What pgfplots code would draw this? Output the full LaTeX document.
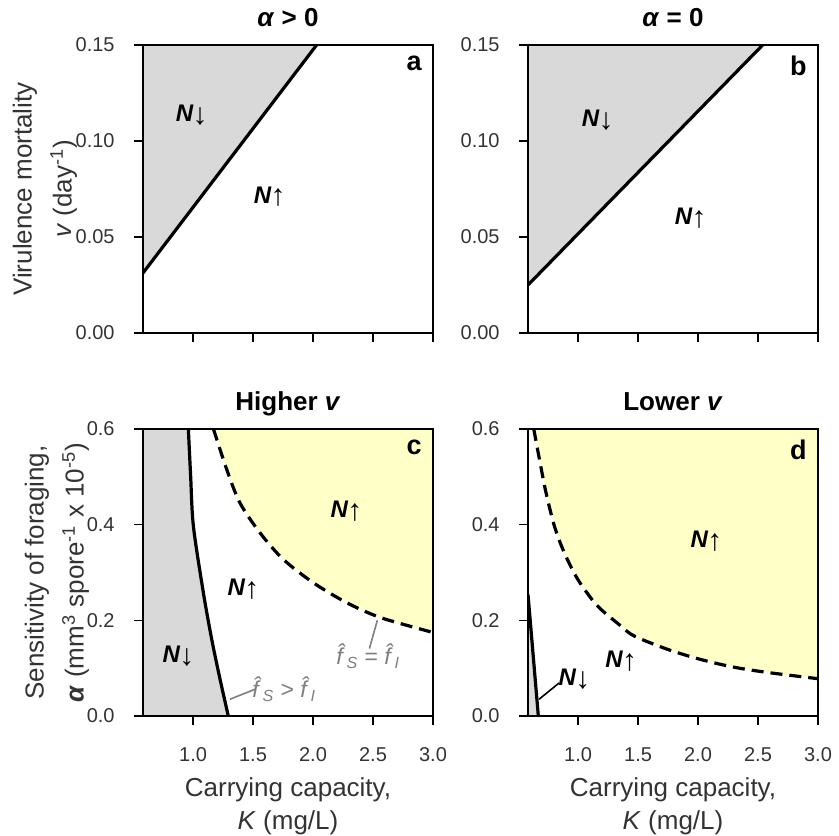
\documentclass[border=0pt]{standalone}
\usepackage{fontspec}
\setmainfont{Liberation Sans}
\usepackage{pgfplots}
\pgfplotsset{compat=1.18}
\definecolor{grayfill}{HTML}{D9D9D9}
\definecolor{yel}{HTML}{FFFFC8}
\definecolor{txt}{HTML}{333333}
\definecolor{anno}{HTML}{7F7F7F}
\newcommand{\Nup}{\textbf{\textit{N}}\kern-0.5pt\raisebox{-0.12em}{\fontseries{m}\fontsize{15}{15}\selectfont ↑}}
\newcommand{\Ndown}{\textbf{\textit{N}}\kern-0.5pt\raisebox{-0.12em}{\fontseries{m}\fontsize{15}{15}\selectfont ↓}}
\newcommand{\fh}[1]{\textit{\^{f}}\textsubscript{\textit{#1}}}
\tikzset{
  nlab/.style={font=\fontsize{12}{13}\selectfont},
  letter/.style={anchor=north east, inner sep=0pt, xshift=-5.5pt, yshift=-5.5pt, font=\bfseries\fontsize{13.5}{14}\selectfont},
}
\pgfplotsset{
  panel/.style={
    scale only axis, width=145pt, height=144pt,
    xmin=0.583, xmax=3,
    axis on top,
    axis line style={line width=1pt, black},
    tick align=outside, tick pos=left, major tick length=4.5pt,
    every tick/.style={black, line width=0.8pt},
    xtick={1,1.5,2,2.5,3},
    /pgf/number format/assume math mode=true,
    tick label style={font=\fontsize{10}{12}\selectfont, text=txt},
    yticklabel style={inner sep=0pt, anchor=east, xshift=-9.5pt},
    xticklabel style={inner sep=0pt, anchor=north, yshift=-11pt},
    title style={at={(axis description cs:0.5,1)}, anchor=base, yshift=3pt, inner sep=0pt, font=\bfseries\fontsize{13}{14}\selectfont},
    ylabel style={anchor=south, inner sep=0pt, align=center, font=\fontsize{13}{16.5}\selectfont, text=txt},
    xlabel style={at={(axis description cs:0.5,0)}, anchor=north, yshift=-30.5pt, inner sep=0pt, align=center, font=\fontsize{13}{16.5}\selectfont, text=txt},
  },
  vpanel/.style={panel, ymin=0, ymax=0.15, ytick={0,0.05,0.1,0.15},
    yticklabel style={/pgf/number format/fixed, /pgf/number format/fixed zerofill, /pgf/number format/precision=2},
    xticklabels={}},
  apanel/.style={panel, ymin=0, ymax=0.6, height=143.5pt, ytick={0,0.2,0.4,0.6},
    yticklabel style={/pgf/number format/fixed, /pgf/number format/fixed zerofill, /pgf/number format/precision=1},
    xticklabel style={/pgf/number format/fixed, /pgf/number format/fixed zerofill, /pgf/number format/precision=1},
    xlabel={Carrying capacity,\\\textit{K} (mg/L)}},
}
\begin{document}
\begin{tikzpicture}
\path[use as bounding box] (0,0) rectangle (419.5pt,417.5pt);
% panel a
\begin{axis}[vpanel, at={(71.5pt,251pt)}, anchor=south west,
  title={\textit{α} > 0},
  ylabel style={at={(axis description cs:-0.226,0.5)}},
  ylabel={Virulence mortality\\[3.5pt]\textit{v} (day\textsuperscript{-1})}]
\addplot[fill=grayfill, draw=none] coordinates {(0.583,0.03125) (2.03,0.15) (0.583,0.15)} -- cycle;
\addplot[black, line width=1.6pt] coordinates {(0.583,0.03125) (2.03,0.15)};
\node[nlab] at (axis cs:0.989,0.1135) {\Ndown};
\node[nlab] at (axis cs:1.64,0.071) {\Nup};
\node[letter] at (rel axis cs:1,1) {a};
\end{axis}
% panel b
\begin{axis}[vpanel, at={(264pt,251pt)}, anchor=south west,
  title={\textit{α} = 0}]
\addplot[fill=grayfill, draw=none] coordinates {(0.583,0.025) (2.539,0.15) (0.583,0.15)} -- cycle;
\addplot[black, line width=1.6pt] coordinates {(0.583,0.025) (2.539,0.15)};
\node[nlab] at (axis cs:1.164,0.111) {\Ndown};
\node[nlab] at (axis cs:1.94,0.060) {\Nup};
\node[letter] at (rel axis cs:1,1) {b};
\end{axis}
% panel c
\begin{axis}[apanel, at={(71.5pt,59.5pt)}, anchor=south west,
  title={Higher \textit{v}},
  ylabel style={at={(axis description cs:-0.185,0.5)}},
  ylabel={Sensitivity of foraging,\\[3.5pt]\textbf{\textit{α}} (mm\textsuperscript{3} spore\textsuperscript{-1} x 10\textsuperscript{-5})}]
\addplot[fill=grayfill, draw=none] coordinates {(0.583,0) (1.294,0) (1.225,0.077) (1.156,0.160) (1.086,0.258) (1.003,0.397) (0.980,0.502) (0.961,0.6) (0.583,0.6)} -- cycle;
\addplot[fill=yel, draw=none] coordinates {(1.17,0.6) (1.28,0.516) (1.39,0.446) (1.558,0.383) (1.75,0.328) (2.0,0.279) (2.28,0.237) (2.56,0.206) (2.95,0.178) (3.0,0.175) (3.0,0.6)} -- cycle;
\addplot[black, line width=1.6pt, smooth] coordinates {(1.294,0) (1.225,0.077) (1.156,0.160) (1.086,0.258) (1.003,0.397) (0.980,0.502) (0.961,0.6)};
\addplot[black, line width=1.6pt, smooth, dash pattern=on 6pt off 3.5pt] coordinates {(1.17,0.6) (1.28,0.516) (1.39,0.446) (1.558,0.383) (1.75,0.328) (2.0,0.279) (2.28,0.237) (2.56,0.206) (2.95,0.178) (3.0,0.175)};
\draw[anno, line width=0.8pt] (axis cs:1.308,0.035) -- (axis cs:1.517,0.056);
\draw[anno, line width=0.8pt] (axis cs:2.47,0.141) -- (axis cs:2.536,0.2);
\node[text=anno, font=\fontsize{11.5}{12}\selectfont] at (axis cs:1.76,0.056) {\fh{S} > \fh{I}};
\node[text=anno, font=\fontsize{11.5}{12}\selectfont] at (axis cs:2.46,0.125) {\fh{S} = \fh{I}};
\node[nlab] at (axis cs:0.878,0.125) {\Ndown};
\node[nlab] at (axis cs:1.42,0.265) {\Nup};
\node[nlab] at (axis cs:2.28,0.429) {\Nup};
\node[letter] at (rel axis cs:1,1) {c};
\end{axis}
% panel d
\begin{axis}[apanel, at={(264pt,59.5pt)}, anchor=south west,
  title={Lower \textit{v}}]
\addplot[fill=grayfill, draw=none] coordinates {(0.583,0) (0.669,0) (0.583,0.254)} -- cycle;
\addplot[fill=yel, draw=none] coordinates {(0.631,0.6) (0.678,0.537) (0.733,0.467) (0.803,0.397) (0.886,0.341) (0.997,0.286) (1.136,0.237) (1.19,0.223) (1.358,0.188) (1.47,0.167) (1.75,0.139) (2.025,0.118) (2.30,0.102) (2.58,0.091) (3.0,0.078) (3.0,0.6)} -- cycle;
\addplot[black, line width=1.6pt] coordinates {(0.583,0.254) (0.669,0)};
\addplot[black, line width=1.6pt, smooth, dash pattern=on 6pt off 3.5pt] coordinates {(0.631,0.6) (0.678,0.537) (0.733,0.467) (0.803,0.397) (0.886,0.341) (0.997,0.286) (1.136,0.237) (1.19,0.223) (1.358,0.188) (1.47,0.167) (1.75,0.139) (2.025,0.118) (2.30,0.102) (2.58,0.091) (3.0,0.078)};
\draw[black, line width=0.8pt] (axis cs:0.675,0.035) -- (axis cs:0.842,0.069);
\node[nlab] at (axis cs:1.36,0.115) {\Nup};
\node[nlab] at (axis cs:0.97,0.077) {\Ndown};
\node[nlab] at (axis cs:2.07,0.366) {\Nup};
\node[letter] at (rel axis cs:1,1) {d};
\end{axis}
\end{tikzpicture}
\end{document}
